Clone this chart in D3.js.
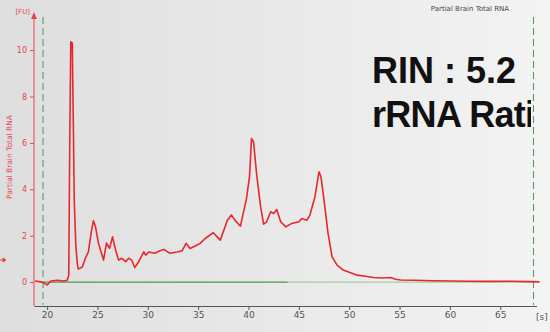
<!DOCTYPE html>
<html>
<head>
<meta charset="utf-8">
<script src="https://cdn.jsdelivr.net/npm/d3@7"></script>
<style>
  body { margin: 0; background: #e6e6e6; }
  svg { display: block; }
</style>
</head>
<body>
<svg id="chart" width="550" height="332"></svg>
<script>
// Electropherogram values: time [s] and fluorescence [FU]
var times = [18.8, 19.5, 20.0, 20.4, 21.0, 21.6, 22.0, 22.15, 22.25, 22.35, 22.5, 22.6, 22.7, 22.85, 23.0,
  23.1, 23.5, 23.8, 24.1, 24.4, 24.6, 24.8, 25.1, 25.6, 25.9, 26.2, 26.5, 26.8, 27.1, 27.4, 27.8,
  28.1, 28.4, 28.7, 29.1, 29.6, 29.8, 30.1, 30.7, 31.2, 31.6, 32.2, 32.9, 33.4, 33.8, 34.2, 34.9,
  35.2, 35.7, 36.5, 37.2, 37.9, 38.3, 38.7, 39.2, 39.8, 40.1, 40.3, 40.5, 40.8, 41.2, 41.5, 41.8,
  42.2, 42.5, 42.8, 43.2, 43.7, 44.3, 45.0, 45.3, 45.8, 46.1, 46.6, 47.0, 47.2, 47.5, 47.9, 48.3,
  48.8, 49.4, 50.0, 50.8, 51.6, 52.4, 53.2, 54.1, 54.6, 55.1, 56.5, 58.3, 60.0, 62.0, 64.0, 66.0, 68.0, 68.9];
var fu = [0.05, 0.0, -0.12, 0.05, 0.08, 0.05, 0.08, 0.3, 6.0, 10.36, 10.3, 7.0, 3.5, 1.6, 0.8,
  0.56, 0.65, 1.03, 1.3, 2.2, 2.64, 2.4, 1.68, 0.95, 1.68, 1.46, 1.95, 1.38, 0.95, 1.03, 0.88,
  1.03, 0.95, 0.63, 0.88, 1.3, 1.16, 1.3, 1.24, 1.35, 1.41, 1.24, 1.3, 1.35, 1.67, 1.45, 1.6,
  1.67, 1.88, 2.13, 1.81, 2.67, 2.89, 2.64, 2.41, 3.6, 4.54, 6.19, 6.05, 4.68, 3.25, 2.5, 2.6,
  3.03, 2.96, 3.13, 2.6, 2.38, 2.53, 2.6, 2.74, 2.67, 2.89, 3.68, 4.75, 4.54, 3.53, 2.1, 1.09,
  0.73, 0.52, 0.42, 0.3, 0.25, 0.2, 0.18, 0.2, 0.12, 0.09, 0.08, 0.06, 0.05, 0.04, 0.03, 0.04, 0.02, 0.01];

var xTicks = [20, 25, 30, 35, 40, 45, 50, 55, 60, 65];
var yTicks = [0, 2, 4, 6, 8, 10];
var markerLines = [19.6, 68.3];      // green dashed window
var baselineSplit = 43.9;            // darker green baseline up to here
var sampleName = "Partial Brain Total RNA";
var notes = ["RIN : 5.2", "rRNA Ratio"];

var svg = d3.select("#chart");
var W = 550, H = 332;

var x = d3.scaleLinear().domain([18.7, 68.6]).range([34, 536.5]);
var y = d3.scaleLinear().domain([-1.03, 11.47]).range([306, 16]);

// Background gradient
var defs = svg.append("defs");
var grad = defs.append("linearGradient").attr("id", "bg")
  .attr("x1", "0%").attr("x2", "100%").attr("y1", "0%").attr("y2", "0%");
grad.append("stop").attr("offset", "0%").attr("stop-color", "#dedede");
grad.append("stop").attr("offset", "100%").attr("stop-color", "#f3f3f3");
svg.append("rect").attr("width", W).attr("height", H).attr("fill", "url(#bg)");

// the big note is cut off at the right window line, as in the source
defs.append("clipPath").attr("id", "noteClip")
  .append("rect").attr("x", 0).attr("y", 0).attr("width", 531).attr("height", H);

// Green dashed window lines
svg.selectAll(".win").data(markerLines).enter().append("line")
  .attr("x1", function(d) { return x(d); })
  .attr("x2", function(d) { return x(d); })
  .attr("y1", 17).attr("y2", 305)
  .attr("stroke", "#4e9a4e")
  .attr("stroke-width", 1)
  .attr("stroke-dasharray", "7,4");

// Green baseline at 0
svg.append("line")
  .attr("x1", x(markerLines[0])).attr("x2", x(baselineSplit))
  .attr("y1", y(0)).attr("y2", y(0))
  .attr("stroke", "#4f944f").attr("stroke-width", 1.3);
svg.append("line")
  .attr("x1", x(baselineSplit)).attr("x2", x(markerLines[1]))
  .attr("y1", y(0)).attr("y2", y(0))
  .attr("stroke", "#a3cda3").attr("stroke-width", 1.3);

// X axis
var xAxis = svg.append("g")
  .attr("transform", "translate(0,306)")
  .call(d3.axisBottom(x).tickValues(xTicks).tickSize(4).tickSizeOuter(0));
xAxis.select(".domain").attr("stroke", "#555");
xAxis.selectAll(".tick line").attr("stroke", "#555");
xAxis.selectAll(".tick text")
  .attr("fill", "#555")
  .style("font-family", "DejaVu Sans, sans-serif")
  .style("font-size", "9px")
  .attr("dy", "0.6em");
svg.append("text")
  .attr("x", 536).attr("y", 320)
  .attr("fill", "#555")
  .style("font-family", "DejaVu Sans, sans-serif")
  .style("font-size", "9px")
  .text("[s]");

// Y axis (red)
var yAxis = svg.append("g")
  .attr("transform", "translate(34,0)")
  .call(d3.axisLeft(y).tickValues(yTicks).tickSize(4).tickSizeOuter(0));
yAxis.select(".domain").remove();
yAxis.selectAll(".tick line").attr("stroke", "#e8454a");
yAxis.selectAll(".tick text")
  .attr("fill", "#e8454a")
  .style("font-family", "DejaVu Sans, sans-serif")
  .style("font-size", "8px");
svg.append("line")
  .attr("x1", 34).attr("x2", 34).attr("y1", 306).attr("y2", 17)
  .attr("stroke", "#e8454a").attr("stroke-width", 1);
svg.append("path")
  .attr("d", "M31,19 L34,12 L37,19 Z")
  .attr("fill", "#e8454a");
svg.append("text")
  .attr("x", 30).attr("y", 14)
  .attr("text-anchor", "end")
  .attr("fill", "#e8454a")
  .style("font-family", "DejaVu Sans, sans-serif")
  .style("font-size", "7px")
  .text("[FU]");
svg.append("text")
  .attr("transform", "translate(12,157) rotate(-90)")
  .attr("text-anchor", "middle")
  .attr("fill", "#e8454a")
  .style("font-family", "DejaVu Sans, sans-serif")
  .style("font-size", "7.5px")
  .text(sampleName);

// small red arrow on left edge
svg.append("path")
  .attr("d", "M0,260 L3,260 M3,258 L6,260 L3,262 Z")
  .attr("stroke", "#e8454a").attr("fill", "#e8454a").attr("stroke-width", 1);

// Sample name top right
svg.append("text")
  .attr("x", 470).attr("y", 11)
  .attr("text-anchor", "middle")
  .attr("fill", "#444")
  .style("font-family", "DejaVu Sans, sans-serif")
  .style("font-size", "7px")
  .text(sampleName);

// Trace
var trace = times.map(function(t, i) { return {t: t, v: fu[i]}; });
svg.append("path")
  .datum(trace)
  .attr("fill", "none")
  .attr("stroke", "#e8262b")
  .attr("stroke-width", 1.6)
  .attr("stroke-linejoin", "round")
  .attr("d", d3.line()
    .x(function(d) { return x(d.t); })
    .y(function(d) { return y(d.v); }));

// RIN annotation
svg.append("g").attr("clip-path", "url(#noteClip)")
  .selectAll("text").data(notes).enter().append("text")
  .attr("x", 372)
  .attr("y", function(d, i) { return 83 + i * 44; })
  .attr("fill", "#111")
  .style("font-family", "Liberation Sans, Arial, sans-serif")
  .style("font-weight", "bold")
  .style("font-size", "36px")
  .style("letter-spacing", function(d, i) { return i ? "-0.7px" : "0px"; })
  .text(function(d) { return d; });
</script>
</body>
</html>
